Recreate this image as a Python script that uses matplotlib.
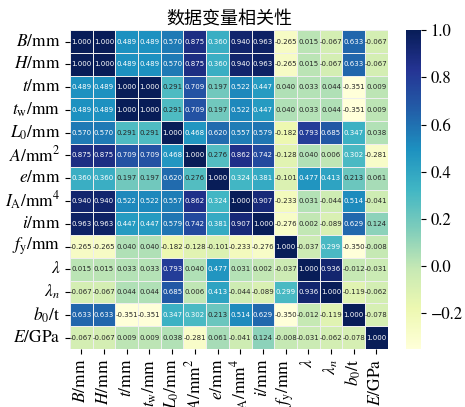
import numpy as np
import matplotlib
matplotlib.use('Agg')
import matplotlib.pyplot as plt
import seaborn as sns

# Variable names and the correlation matrix (upper rows read across)
labels = [r'$B$/mm', r'$H$/mm', r'$t$/mm', r'$t_{\rm w}$/mm', r'$L_0$/mm',
          r'$A$/mm$^2$', r'$e$/mm', r'$I_{\rm A}$/mm$^4$', r'$i$/mm',
          r'$f_{\rm y}$/mm', r'$\lambda$', r'$\lambda_n$', r'$b_0$/t', r'$E$/GPa']

row_B = [1.000, 1.000, 0.489, 0.489, 0.570, 0.875, 0.360, 0.940, 0.963, -0.265, 0.015, -0.067, 0.633, -0.067]
row_H = [1.000, 1.000, 0.489, 0.489, 0.570, 0.875, 0.360, 0.940, 0.963, -0.265, 0.015, -0.067, 0.633, -0.067]
row_t = [0.489, 0.489, 1.000, 1.000, 0.291, 0.709, 0.197, 0.522, 0.447, 0.040, 0.033, 0.044, -0.351, 0.009]
row_tw = [0.489, 0.489, 1.000, 1.000, 0.291, 0.709, 0.197, 0.522, 0.447, 0.040, 0.033, 0.044, -0.351, 0.009]
row_L0 = [0.570, 0.570, 0.291, 0.291, 1.000, 0.468, 0.620, 0.557, 0.579, -0.182, 0.793, 0.685, 0.347, 0.038]
row_A = [0.875, 0.875, 0.709, 0.709, 0.468, 1.000, 0.276, 0.862, 0.742, -0.128, 0.040, 0.006, 0.302, -0.281]
row_e = [0.360, 0.360, 0.197, 0.197, 0.620, 0.276, 1.000, 0.324, 0.381, -0.101, 0.477, 0.413, 0.213, 0.061]
row_IA = [0.940, 0.940, 0.522, 0.522, 0.557, 0.862, 0.324, 1.000, 0.907, -0.233, 0.031, -0.044, 0.514, -0.041]
row_i = [0.963, 0.963, 0.447, 0.447, 0.579, 0.742, 0.381, 0.907, 1.000, -0.276, 0.002, -0.089, 0.629, 0.124]
row_fy = [-0.265, -0.265, 0.040, 0.040, -0.182, -0.128, -0.101, -0.233, -0.276, 1.000, -0.037, 0.299, -0.350, -0.008]
row_lam = [0.015, 0.015, 0.033, 0.033, 0.793, 0.040, 0.477, 0.031, 0.002, -0.037, 1.000, 0.936, -0.012, -0.031]
row_lamn = [-0.067, -0.067, 0.044, 0.044, 0.685, 0.006, 0.413, -0.044, -0.089, 0.299, 0.936, 1.000, -0.119, -0.062]
row_b0t = [0.633, 0.633, -0.351, -0.351, 0.347, 0.302, 0.213, 0.514, 0.629, -0.350, -0.012, -0.119, 1.000, -0.078]
row_E = [-0.067, -0.067, 0.009, 0.009, 0.038, -0.281, 0.061, -0.041, 0.124, -0.008, -0.031, -0.062, -0.078, 1.000]

corr = np.array([row_B, row_H, row_t, row_tw, row_L0, row_A, row_e,
                 row_IA, row_i, row_fy, row_lam, row_lamn, row_b0t, row_E])

plt.rcParams['font.family'] = ['STIXGeneral', 'DejaVu Serif']
plt.rcParams['mathtext.fontset'] = 'stix'

fig = plt.figure(figsize=(4.65, 4.07), dpi=100)
ax = fig.add_axes([0.1505, 0.1425, 0.6835, 0.7835])
cax = fig.add_axes([0.873, 0.1425, 0.032, 0.7835])

sns.heatmap(corr, ax=ax, cbar_ax=cax, cmap='YlGnBu', annot=True, fmt='.3f',
            annot_kws={'fontsize': 5, 'family': 'DejaVu Sans'},
            linewidths=0.5, linecolor='#eeeeee',
            xticklabels=labels, yticklabels=labels)

ax.set_xticklabels(labels, rotation=90, fontsize=12.5)
ax.set_yticklabels(labels, rotation=0, fontsize=12.5)
ax.set_title('数据变量相关性', fontsize=13, family=['Noto Sans CJK SC'], pad=4)
cax.tick_params(labelsize=12)

fig.savefig('out.png', dpi=100)
